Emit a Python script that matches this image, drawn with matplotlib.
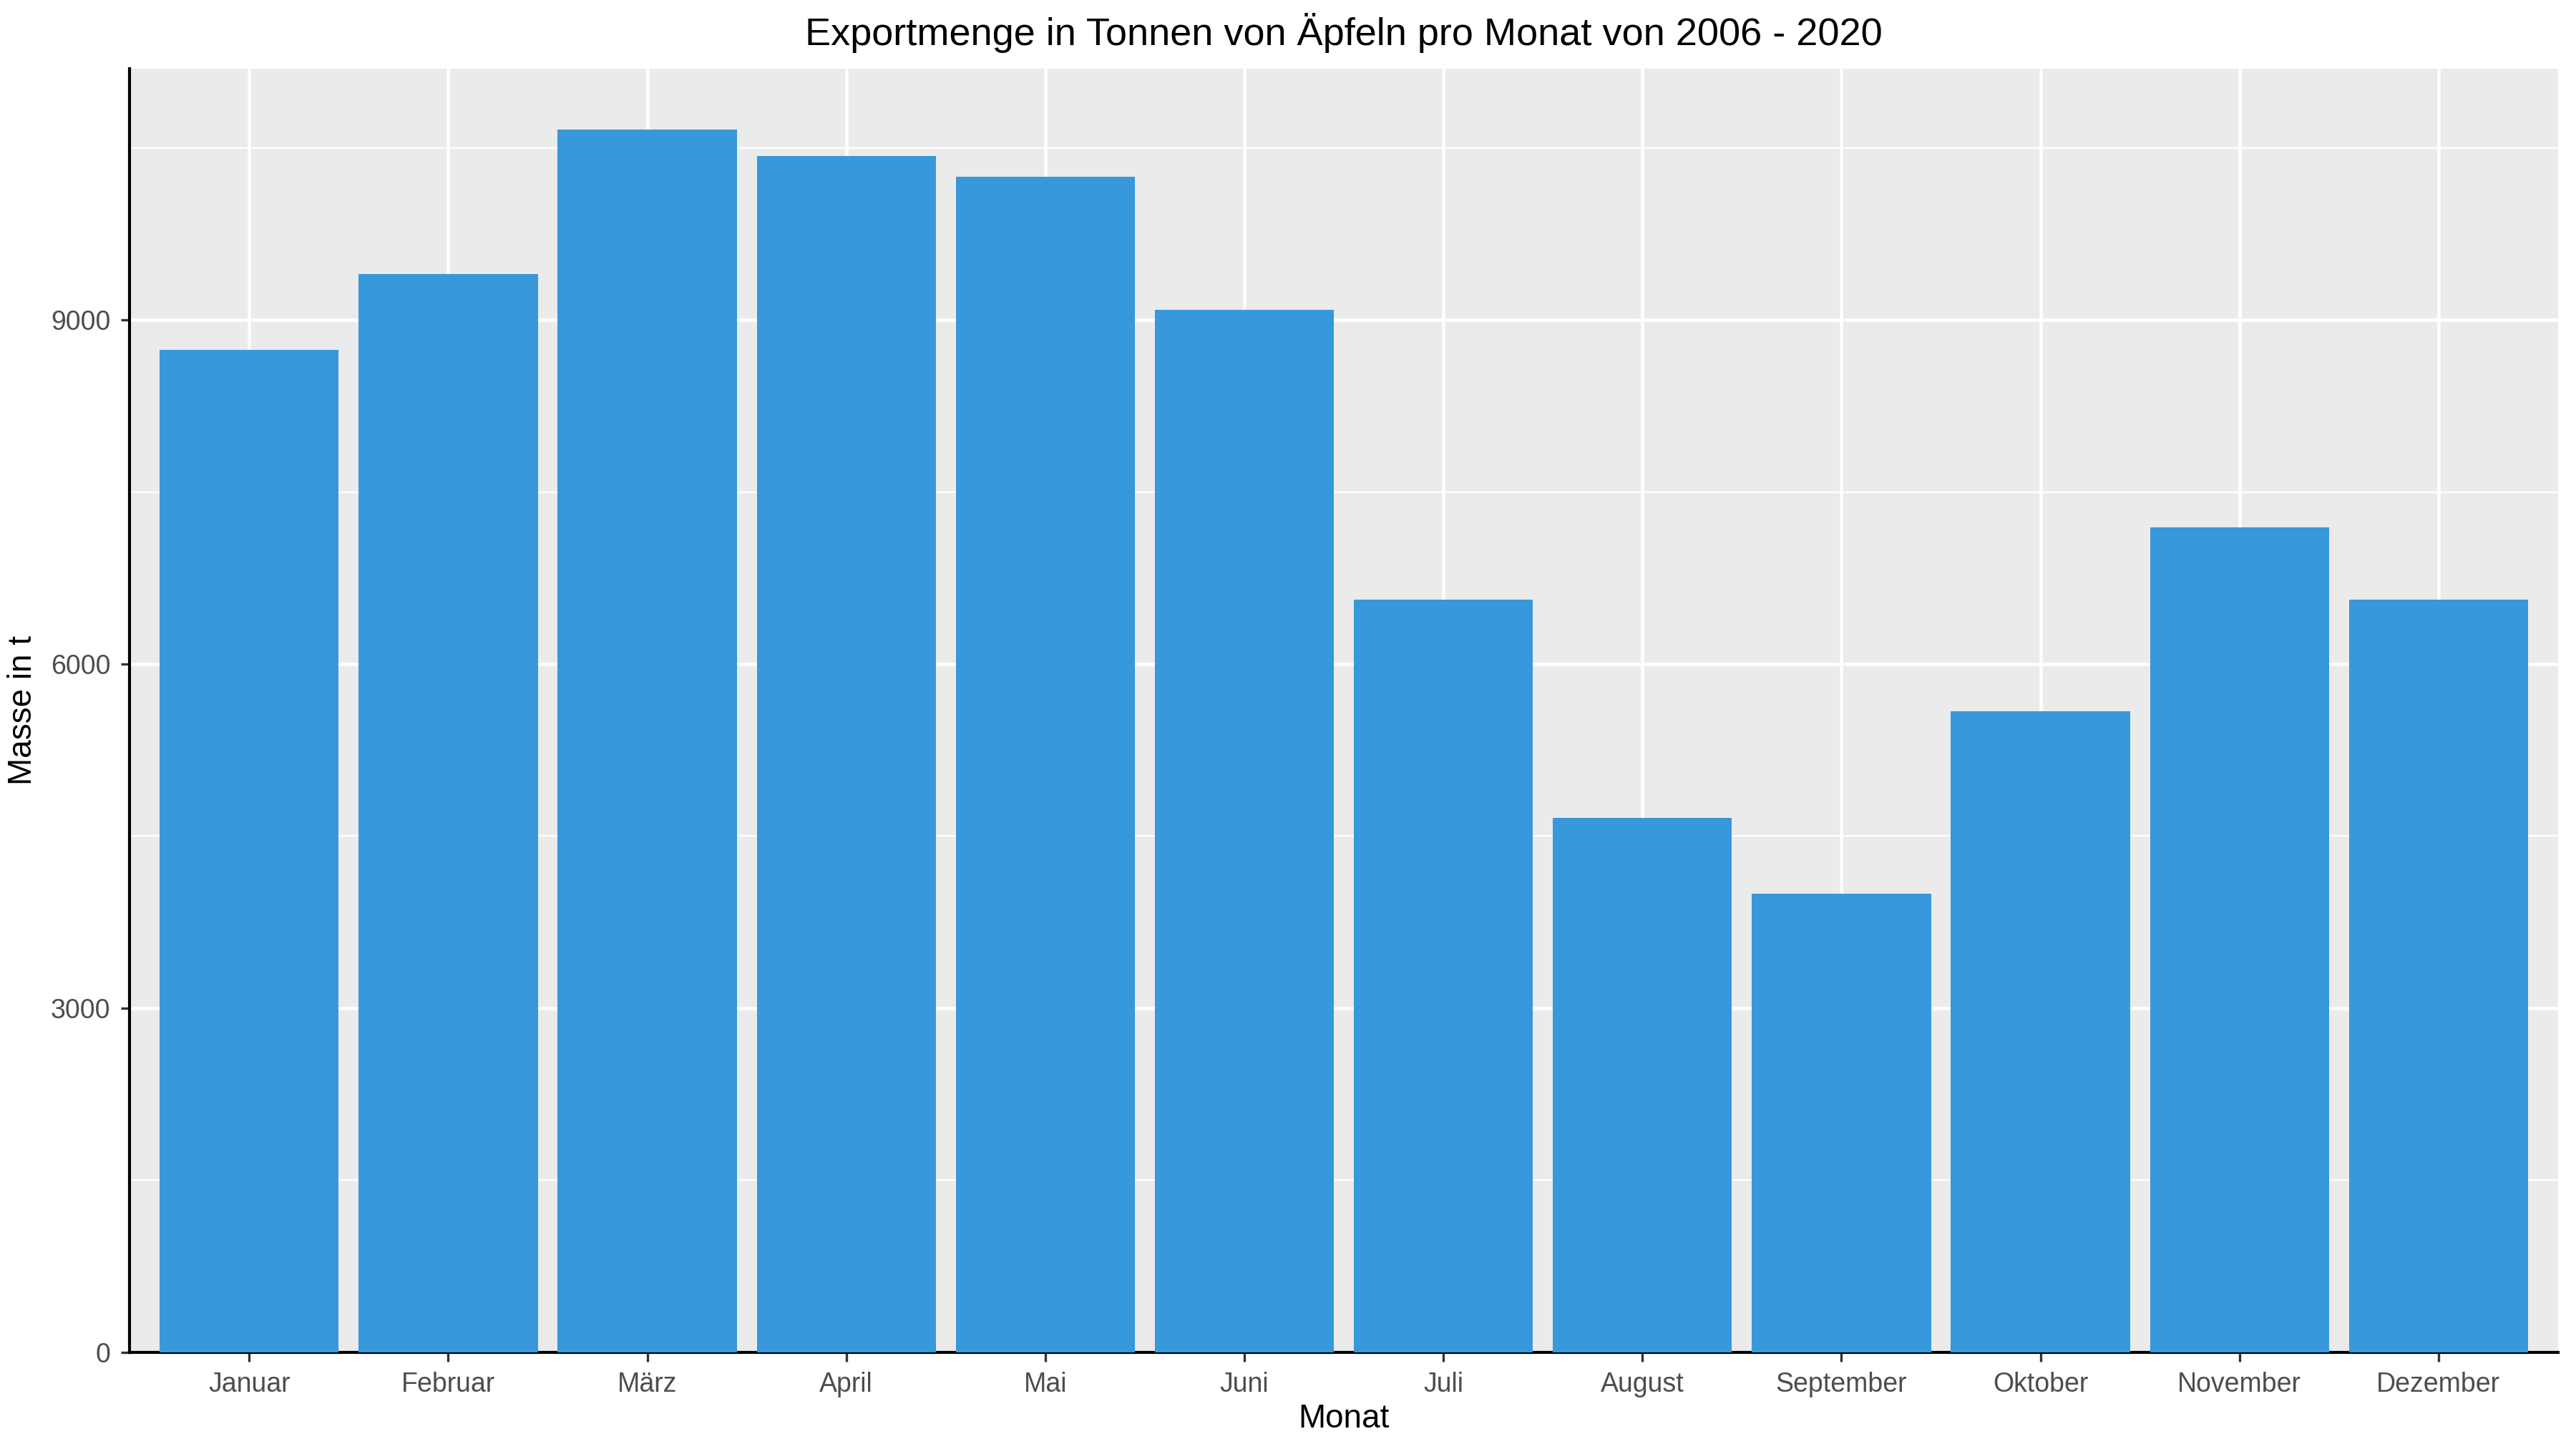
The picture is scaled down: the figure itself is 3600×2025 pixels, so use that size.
import matplotlib

matplotlib.use("Agg")
import matplotlib.pyplot as plt
from matplotlib.ticker import MultipleLocator

MONTHS = ["Januar", "Februar", "März", "April", "Mai", "Juni", "Juli",
          "August", "September", "Oktober", "November", "Dezember"]
TONNES = [8740, 9400, 10660, 10430, 10250, 9090, 6565, 4660, 4000, 5590, 7195, 6565]

plt.rcParams["font.family"] = ["Liberation Sans", "DejaVu Sans"]

fig = plt.figure(figsize=(12, 6.75), dpi=300)
ax = fig.add_axes([79 / 1568, 1 - 823 / 882, (1557 - 79) / 1568, (823 - 42) / 882])
ax.set_facecolor("#EBEBEB")

x = list(range(len(MONTHS)))
ax.bar(x, TONNES, width=0.9, color="#3798DB", zorder=3)

ax.set_xlim(-0.6, len(MONTHS) - 0.4)
ax.set_ylim(0, 11190)
ax.set_xticks(x)
ax.set_xticklabels(MONTHS)
ax.yaxis.set_major_locator(MultipleLocator(3000))
ax.yaxis.set_minor_locator(MultipleLocator(1500))
ax.grid(which="major", color="white", linewidth=1.1, zorder=0)
ax.grid(which="minor", axis="y", color="white", linewidth=0.55, zorder=0)
ax.tick_params(which="minor", length=0)
ax.tick_params(which="major", length=3, color="#333333", labelcolor="#4D4D4D", labelsize=9)

for side in ("top", "right"):
    ax.spines[side].set_visible(False)
for side in ("left", "bottom"):
    ax.spines[side].set_color("black")
    ax.spines[side].set_linewidth(1.0)

ax.set_xlabel("Monat", fontsize=11, labelpad=2)
ax.set_ylabel("Masse in t", fontsize=11)
ax.set_title("Exportmenge in Tonnen von Äpfeln pro Monat von 2006 - 2020", fontsize=13, pad=8)

fig.savefig("out.png", dpi=300)
